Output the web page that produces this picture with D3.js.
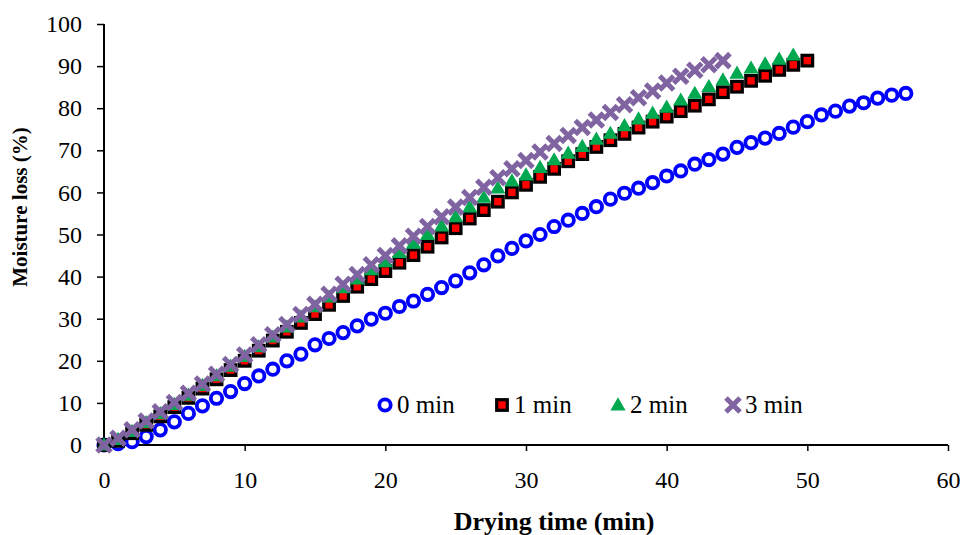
<!DOCTYPE html>
<html>
<head>
<meta charset="utf-8">
<script src="https://cdn.jsdelivr.net/npm/d3@7"></script>
<style>
  body { margin: 0; background: #fff; }
  text { font-family: "Liberation Serif", "Times New Roman", serif; fill: #000; }
</style>
</head>
<body>
<div id="chart"></div>
<script>
// drying time in minutes, one reading each minute
var minutes = [0,1,2,3,4,5,6,7,8,9,10,11,12,13,14,15,16,17,18,19,20,21,22,23,24,25,26,27,28,29,
  30,31,32,33,34,35,36,37,38,39,40,41,42,43,44,45,46,47,48,49,50,51,52,53,54,55,56,57];

// moisture loss (%) for each pre-treatment time
var loss0 = [0,0.3,0.8,2.0,3.6,5.5,7.5,9.3,11.1,12.7,14.6,16.4,18.0,20.0,21.6,23.8,25.3,26.7,28.3,29.9,
  31.3,32.9,34.2,35.8,37.4,39.0,40.9,42.8,44.9,46.7,48.5,50.0,51.9,53.4,55.0,56.6,58.4,59.8,61.0,62.3,
  63.9,65.1,66.7,67.8,69.1,70.7,71.8,72.9,74.0,75.5,76.8,78.4,79.3,80.5,81.3,82.4,83.1,83.5];
var loss1 = [0,1.0,2.8,4.8,6.8,9.0,11.2,13.4,15.6,17.8,20.0,22.4,24.8,26.9,29.0,31.1,33.3,35.4,37.6,39.4,
  41.3,43.3,45.1,47.1,49.3,51.5,53.8,55.8,57.8,60.0,61.8,63.7,65.6,67.4,69.1,70.8,72.4,73.9,75.4,76.8,
  78.0,79.3,80.6,82.1,83.8,85.1,86.5,87.7,89.1,90.3,91.3];
var loss2 = [0,1.3,3.2,5.3,7.4,9.6,11.8,14.1,16.4,18.7,21.0,23.3,25.6,28.0,30.4,32.8,35.1,37.3,39.4,41.6,
  43.5,45.7,47.9,50.0,52.0,54.2,56.5,58.8,61.0,62.7,64.1,65.9,67.7,69.3,70.9,72.6,74.0,75.8,77.4,78.8,
  80.2,81.9,83.5,85.1,86.7,88.3,89.5,90.5,91.6,92.6];
var loss3 = [0,1.6,3.6,5.7,7.9,10.1,12.3,14.5,16.8,19.1,21.4,23.8,26.2,28.6,31.0,33.4,35.8,38.2,40.5,42.8,
  45.0,47.3,49.6,51.9,54.2,56.5,58.8,61.2,63.5,65.6,67.6,69.6,71.6,73.5,75.4,77.2,79.0,80.8,82.5,84.1,
  86.0,87.6,89.0,90.3,91.3];

var seriesNames = ["0 min", "1 min", "2 min", "3 min"];
var xTicks = [0, 10, 20, 30, 40, 50, 60];
var yTicks = [0, 10, 20, 30, 40, 50, 60, 70, 80, 90, 100];

// set the dimensions and margins of the graph
var margin = {top: 24, right: 14, bottom: 90, left: 104},
    width = 948 - margin.left,
    height = 445 - margin.top;

var svg = d3.select("#chart")
  .append("svg")
    .attr("width", 962)
    .attr("height", 535)
  .append("g")
    .attr("transform", "translate(" + margin.left + "," + margin.top + ")");

var x = d3.scaleLinear().domain([0, 60]).range([0, width]);
var y = d3.scaleLinear().domain([0, 100]).range([height, 0]);

// X axis
var xAxis = svg.append("g")
    .attr("transform", "translate(0," + height + ")")
    .call(d3.axisBottom(x).tickValues(xTicks).tickSize(6).tickPadding(20));
// Y axis
var yAxis = svg.append("g")
    .call(d3.axisLeft(y).tickValues(yTicks).tickSize(7).tickPadding(15));

[xAxis, yAxis].forEach(function(a) {
  a.select(".domain").attr("stroke", "#000").attr("stroke-width", 2);
  a.selectAll(".tick line").attr("stroke", "#000").attr("stroke-width", 1.5);
  a.selectAll(".tick text")
    .style("font-family", "'Liberation Serif', serif")
    .style("font-size", "24px")
    .attr("fill", "#000");
});
xAxis.select(".domain").attr("d", "M0,0H" + width);
yAxis.select(".domain").attr("d", "M0," + height + "V0");

// marker drawers
var markers = [
  function(g) { g.append("circle").attr("r", 5.7).attr("fill", "#fff").attr("stroke", "#0000ff").attr("stroke-width", 3.8); },
  function(g) { g.append("rect").attr("x", -5.3).attr("y", -5.3).attr("width", 10.6).attr("height", 10.6)
                  .attr("fill", "#ff0000").attr("stroke", "#000").attr("stroke-width", 3.2); },
  function(g) { g.append("path").attr("d", d3.symbol().type(d3.symbolTriangle).size(100)).attr("fill", "#00a850")
                  .attr("transform", "translate(0,1)"); },
  function(g) { g.append("path").attr("d", "M-7,-7L7,7M-7,7L7,-7")
                  .attr("stroke", "#8064a2").attr("stroke-width", 5).attr("fill", "none"); }
];

var allSeries = [loss0, loss1, loss2, loss3];

allSeries.forEach(function(vals, k) {
  svg.append("g")
    .selectAll("g")
    .data(vals)
    .enter()
    .append("g")
      .attr("transform", function(d, i) { return "translate(" + x(minutes[i]) + "," + y(d) + ")"; })
      .each(function() { markers[k](d3.select(this)); });
});

// legend
var legendX = [385, 502, 618, 733];
var legend = svg.append("g").attr("transform", "translate(" + (-margin.left) + "," + (-margin.top) + ")");
seriesNames.forEach(function(name, k) {
  var m = legend.append("g").attr("transform", "translate(" + legendX[k] + ",405)");
  markers[k](m);
  legend.append("text")
    .attr("x", legendX[k] + 12)
    .attr("y", 413)
    .style("font-size", "25px")
    .text(name);
});

// X axis label
svg.append("text")
    .attr("text-anchor", "middle")
    .attr("x", 554 - margin.left)
    .attr("y", height + 85)
    .style("font-size", "26px")
    .style("font-weight", "bold")
    .text("Drying time (min)");

// Y axis label
svg.append("text")
    .attr("text-anchor", "middle")
    .attr("transform", "rotate(-90)")
    .attr("x", -(207 - margin.top))
    .attr("y", -77)
    .style("font-size", "21px")
    .style("font-weight", "bold")
    .text("Moisture loss (%)");
</script>
</body>
</html>
